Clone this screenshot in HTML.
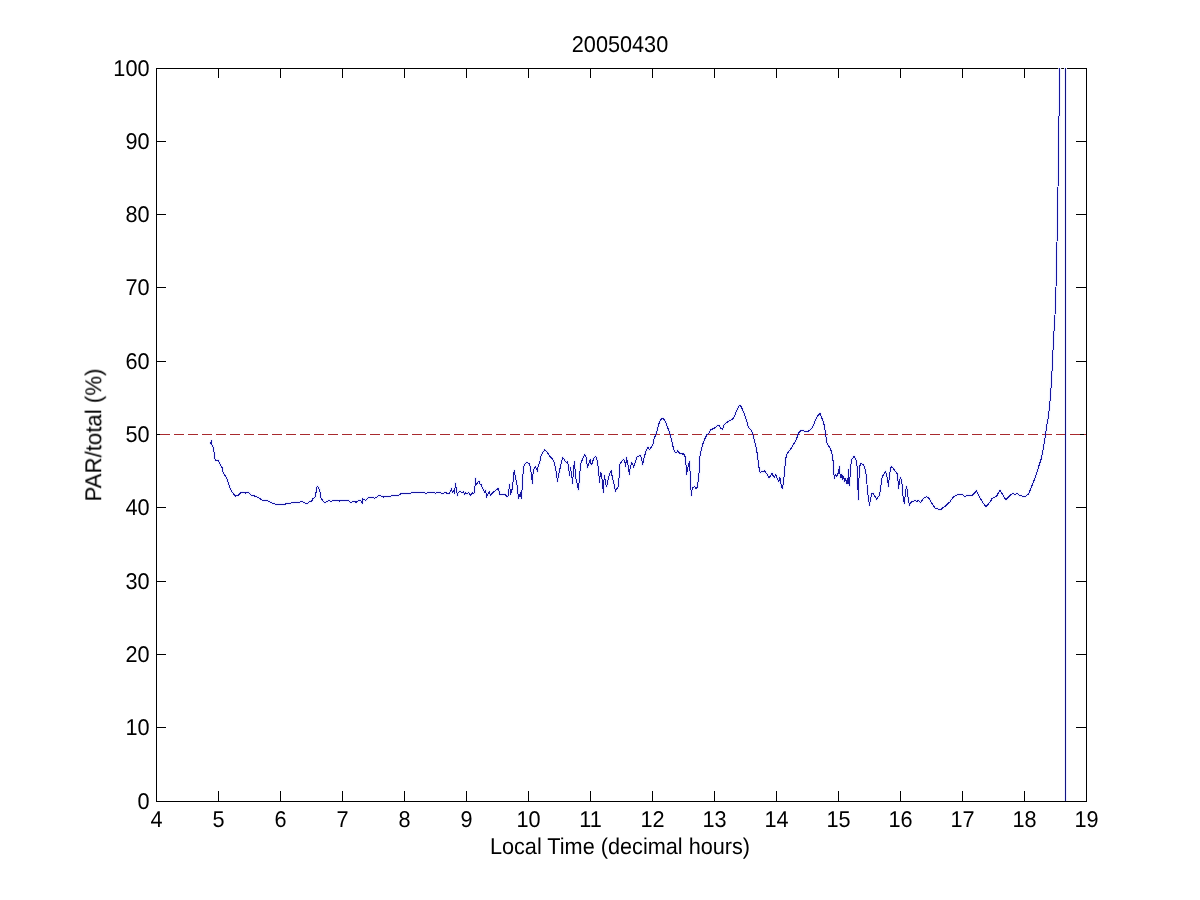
<!DOCTYPE html>
<html><head><meta charset="utf-8"><title>20050430</title><style>
html,body{margin:0;padding:0;background:#fff;width:1200px;height:900px;overflow:hidden}
svg{display:block}
text{font-family:"Liberation Sans",sans-serif;font-size:22px;fill:#000;text-rendering:geometricPrecision}
</style></head><body>
<svg width="1200" height="900" viewBox="0 0 1200 900">
<defs><clipPath id="c"><rect x="156" y="68" width="931" height="734"/></clipPath></defs>
<g shape-rendering="crispEdges"><rect x="156.5" y="68.5" width="930" height="733" fill="none" stroke="#000" stroke-width="1"/><path d="M156.5 801V791M156.5 68V78M218.5 801V791M218.5 68V78M280.5 801V791M280.5 68V78M342.5 801V791M342.5 68V78M404.5 801V791M404.5 68V78M466.5 801V791M466.5 68V78M528.5 801V791M528.5 68V78M590.5 801V791M590.5 68V78M652.5 801V791M652.5 68V78M714.5 801V791M714.5 68V78M776.5 801V791M776.5 68V78M838.5 801V791M838.5 68V78M900.5 801V791M900.5 68V78M962.5 801V791M962.5 68V78M1024.5 801V791M1024.5 68V78M1086.5 801V791M1086.5 68V78M156 801.5H166M1087 801.5H1076M156 727.5H166M1087 727.5H1076M156 654.5H166M1087 654.5H1076M156 581.5H166M1087 581.5H1076M156 507.5H166M1087 507.5H1076M156 434.5H166M1087 434.5H1076M156 361.5H166M1087 361.5H1076M156 287.5H166M1087 287.5H1076M156 214.5H166M1087 214.5H1076M156 141.5H166M1087 141.5H1076M156 68.5H166M1087 68.5H1076" stroke="#000" stroke-width="1" fill="none"/></g>
<g style="will-change:transform"><text transform="translate(156.5,827) scale(0.985,1.04)" text-anchor="middle">4</text><text transform="translate(218.5,827) scale(0.985,1.04)" text-anchor="middle">5</text><text transform="translate(280.5,827) scale(0.985,1.04)" text-anchor="middle">6</text><text transform="translate(342.5,827) scale(0.985,1.04)" text-anchor="middle">7</text><text transform="translate(404.5,827) scale(0.985,1.04)" text-anchor="middle">8</text><text transform="translate(466.5,827) scale(0.985,1.04)" text-anchor="middle">9</text><text transform="translate(528.5,827) scale(0.985,1.04)" text-anchor="middle">10</text><text transform="translate(590.5,827) scale(0.985,1.04)" text-anchor="middle">11</text><text transform="translate(652.5,827) scale(0.985,1.04)" text-anchor="middle">12</text><text transform="translate(714.5,827) scale(0.985,1.04)" text-anchor="middle">13</text><text transform="translate(776.5,827) scale(0.985,1.04)" text-anchor="middle">14</text><text transform="translate(838.5,827) scale(0.985,1.04)" text-anchor="middle">15</text><text transform="translate(900.5,827) scale(0.985,1.04)" text-anchor="middle">16</text><text transform="translate(962.5,827) scale(0.985,1.04)" text-anchor="middle">17</text><text transform="translate(1024.5,827) scale(0.985,1.04)" text-anchor="middle">18</text><text transform="translate(1086.5,827) scale(0.985,1.04)" text-anchor="middle">19</text><text transform="translate(149.5,809) scale(0.985,1.04)" text-anchor="end">0</text><text transform="translate(149.5,735) scale(0.985,1.04)" text-anchor="end">10</text><text transform="translate(149.5,662) scale(0.985,1.04)" text-anchor="end">20</text><text transform="translate(149.5,589) scale(0.985,1.04)" text-anchor="end">30</text><text transform="translate(149.5,515) scale(0.985,1.04)" text-anchor="end">40</text><text transform="translate(149.5,442) scale(0.985,1.04)" text-anchor="end">50</text><text transform="translate(149.5,369) scale(0.985,1.04)" text-anchor="end">60</text><text transform="translate(149.5,295) scale(0.985,1.04)" text-anchor="end">70</text><text transform="translate(149.5,222) scale(0.985,1.04)" text-anchor="end">80</text><text transform="translate(149.5,149) scale(0.985,1.04)" text-anchor="end">90</text><text transform="translate(149.5,76) scale(0.985,1.04)" text-anchor="end">100</text><text transform="translate(620,52) scale(0.985,1.04)" text-anchor="middle">20050430</text><text transform="translate(620,854) scale(0.985,1.04)" text-anchor="middle">Local Time (decimal hours)</text><text transform="translate(101,435) rotate(-90) scale(1.01,1.04)" text-anchor="middle">PAR/total (%)</text></g>
<polyline points="211.5,439.8 211.4,442.5 210.5,442.8 211.5,444.2 212.5,445.7 213.2,447.0 214.2,452.7 214.6,458.3 215.6,460.2 218.4,460.2 220.3,464.9 222.2,467.8 223.1,472.5 225.5,476.3 227.4,480.0 228.8,484.8 230.7,489.5 232.6,492.8 235.4,496.1 238.2,495.2 240.6,492.8 243.0,492.3 245.3,493.1 248.2,492.1 251.5,495.2 256.7,496.6 262.3,500.1 268.0,501.0 272.7,503.2 275.5,504.3 285.0,504.3 286.9,503.2 293.5,502.9 295.4,502.2 299.6,502.3 301.2,501.5 302.9,501.8 305.4,503.3 307.5,503.3 309.6,501.5 311.7,501.0 312.9,498.8 315.0,497.1 315.8,493.8 316.5,489.6 317.3,486.2 318.8,488.2 319.8,490.4 320.4,495.0 321.2,498.3 322.9,500.8 324.6,502.5 326.2,502.1 328.8,500.4 330.8,501.2 334.2,500.4 336.7,500.4 339.2,501.2 340.4,500.4 348.3,500.4 350.4,502.3 352.5,501.8 354.2,501.5 356.2,502.3 358.8,500.4 360.8,500.4 362.1,503.3 362.9,498.8 364.2,499.6 365.8,500.4 368.3,497.5 373.3,497.3 374.6,498.2 377.5,496.8 378.3,495.7 382.5,496.2 383.8,497.1 385.0,496.5 390.8,496.5 391.7,495.4 398.3,495.4 401.2,493.5 410.4,493.5 411.7,492.3 424.2,492.3 425.8,493.5 428.3,492.3 434.2,492.3 435.4,493.3 436.7,492.3 440.0,492.3 441.2,493.5 443.3,493.5 444.6,492.3 445.8,492.7 447.5,493.5 449.2,493.5 450.4,491.8 451.5,488.5 452.3,492.1 453.8,490.7 454.6,493.3 455.4,483.3 456.2,487.9 456.7,490.4 457.3,495.4 458.3,492.5 459.6,491.2 461.7,492.3 463.3,491.8 464.4,494.2 465.8,492.7 467.1,494.2 468.8,492.5 470.4,495.4 472.1,492.7 473.3,493.5 474.6,492.9 475.0,486.2 475.4,478.3 476.2,485.0 477.5,482.5 479.2,481.2 480.0,483.8 481.7,484.8 482.1,487.5 483.3,489.2 484.6,492.1 485.4,490.0 486.7,497.1 487.9,494.2 489.2,491.8 490.4,495.4 493.3,492.1 498.3,488.3 500.0,494.6 501.7,494.2 505.4,494.6 507.1,496.7 508.3,495.4 509.6,484.2 510.4,494.2 511.7,491.7 512.9,483.3 514.2,470.8 515.4,476.7 516.7,483.3 517.5,486.7 518.3,498.3 519.6,495.8 520.4,492.5 521.2,498.3 522.1,489.2 522.9,476.7 523.3,467.5 524.6,464.2 526.7,462.5 529.2,463.8 530.4,466.7 531.5,476.7 532.5,483.3 533.2,470.8 535.4,466.7 536.7,469.2 537.5,471.2 538.3,465.0 539.6,463.3 540.8,456.7 542.5,452.5 544.6,450.0 546.7,451.5 550.0,456.7 552.5,458.8 554.2,462.1 555.8,469.2 557.5,481.2 558.8,474.2 560.4,466.7 561.7,460.8 562.9,457.5 565.0,460.8 567.1,463.3 567.5,461.7 568.3,465.0 569.6,475.4 570.4,467.5 571.2,471.7 572.1,478.3 572.5,483.3 573.3,473.3 573.8,465.8 574.6,461.7 575.0,469.2 575.8,478.3 577.1,483.3 578.3,490.0 579.2,481.7 579.8,473.3 580.8,463.3 582.9,458.3 585.0,454.6 586.2,457.5 587.5,467.9 588.8,463.3 590.4,459.6 591.2,465.0 592.1,463.3 593.8,458.3 595.4,456.5 596.7,458.3 597.9,465.0 598.8,474.2 599.6,482.1 600.0,476.7 600.8,472.5 601.7,476.7 602.5,483.3 603.3,492.1 604.0,480.0 604.6,475.4 605.4,483.3 606.7,486.7 608.3,478.3 610.0,473.3 611.2,470.8 612.5,478.3 613.8,482.5 615.4,491.2 617.1,488.3 618.3,486.7 619.2,475.8 620.0,464.2 621.7,461.2 623.8,459.2 625.0,462.5 625.7,466.7 626.5,457.5 627.5,461.7 628.3,466.7 629.3,474.2 630.4,466.7 631.7,462.5 633.8,467.1 635.0,463.3 636.7,457.5 638.3,456.2 640.4,455.4 641.7,458.8 642.5,465.0 644.2,457.5 645.8,451.7 647.9,447.1 649.6,449.6 650.8,447.9 652.9,444.6 654.2,438.3 656.3,433.5 657.9,427.2 659.5,421.9 661.1,419.3 662.7,418.2 664.8,420.3 666.4,424.0 668.5,429.8 670.1,434.6 671.6,439.8 672.7,445.1 673.8,449.9 675.3,452.5 676.9,452.0 677.7,450.4 678.5,452.5 680.6,453.6 682.2,454.1 683.6,453.6 685.4,457.3 685.9,462.6 686.4,474.2 687.5,470.5 688.5,464.1 689.6,461.5 690.1,472.6 690.7,485.3 691.4,495.3 692.2,488.4 693.3,487.4 694.6,486.3 695.9,488.4 697.3,487.4 698.6,477.9 699.1,471.5 699.6,457.8 701.2,450.4 702.8,444.1 704.4,439.8 707.0,434.6 709.1,433.0 709.2,432.5 710.8,429.8 712.9,428.8 715.0,427.7 717.5,425.4 719.3,425.8 720.8,428.3 722.4,429.3 724.0,425.1 725.6,423.3 727.7,421.9 729.8,420.3 731.9,419.8 733.5,417.7 735.1,414.5 736.7,410.8 738.3,407.1 739.8,405.3 741.4,407.1 743.0,410.8 745.1,416.1 746.7,420.9 747.8,425.6 749.4,428.3 750.9,429.8 752.5,433.5 753.6,436.7 754.6,441.5 756.2,447.8 757.3,454.1 758.3,462.6 759.4,470.0 760.4,472.6 762.0,471.0 763.1,472.1 764.7,470.8 765.8,472.3 767.4,475.0 769.0,478.1 770.6,475.5 772.1,472.9 773.2,476.0 774.3,477.6 775.8,474.4 777.4,478.7 778.8,481.3 779.9,477.1 780.9,483.4 781.6,487.6 782.7,488.2 783.4,480.3 784.3,475.5 784.8,468.6 785.6,459.1 786.9,454.4 788.5,451.7 790.6,449.1 792.7,445.9 794.8,442.2 796.4,439.6 797.5,435.9 798.5,433.3 800.7,430.6 802.8,430.4 804.9,431.5 808.0,431.5 810.2,429.6 812.8,426.9 814.4,422.7 816.0,419.0 817.9,415.8 820.0,413.2 821.7,417.7 823.6,422.6 824.8,428.1 825.8,435.5 826.6,442.2 828.4,445.8 830.3,448.3 831.9,453.2 833.1,461.1 833.6,470.9 834.3,478.2 835.5,474.6 837.0,476.4 838.5,472.1 839.4,466.6 840.1,474.6 840.9,478.2 841.9,474.0 842.9,479.5 843.7,476.4 844.6,481.9 845.6,478.9 846.5,483.1 847.4,478.2 848.0,484.4 848.6,469.7 849.5,485.6 850.5,468.5 851.4,459.9 854.1,456.2 856.0,459.9 857.2,467.2 857.8,484.4 858.4,499.6 859.0,478.2 859.6,466.6 860.8,463.6 862.7,464.2 864.5,466.6 866.1,474.6 867.0,484.4 868.2,496.6 869.4,505.1 870.6,499.0 871.8,493.5 873.1,492.9 874.9,496.6 875.4,497.0 876.6,499.4 878.2,497.0 879.3,495.5 880.1,492.0 880.9,485.8 881.7,479.5 882.6,476.0 884.0,474.1 885.6,471.4 886.5,474.9 887.5,479.5 888.5,486.5 889.3,475.7 890.4,469.4 891.4,466.3 892.9,467.9 894.5,470.2 896.0,472.2 897.4,474.1 898.1,481.9 898.6,488.5 899.4,481.1 900.5,477.6 901.5,480.3 902.3,485.8 902.7,493.5 903.4,498.2 904.2,503.3 905.0,496.7 905.6,491.2 906.4,486.5 907.2,489.7 907.9,495.9 908.5,499.8 909.3,505.2 910.4,503.3 912.0,501.7 914.7,500.7 917.0,501.3 918.6,500.5 920.5,502.5 922.5,499.8 924.4,497.8 926.4,496.7 928.3,497.4 929.9,499.8 931.4,502.5 933.0,505.2 934.9,507.9 936.9,508.3 938.8,509.5 940.8,509.5 943.1,507.5 945.4,506.0 947.8,503.7 950.0,501.9 952.5,497.9 955.5,495.3 958.9,494.4 962.3,494.4 964.9,496.6 966.8,495.3 972.4,495.3 974.6,493.0 976.4,490.6 978.0,493.8 980.3,498.3 982.9,502.8 985.9,506.5 988.5,503.9 990.4,501.6 991.9,498.6 994.5,497.5 996.8,496.0 998.3,493.0 1000.1,490.4 1002.0,493.4 1004.3,497.5 1006.1,499.6 1008.8,496.9 1010.6,494.9 1012.9,493.4 1014.8,494.4 1017.0,493.4 1019.3,495.3 1021.5,495.9 1023.4,496.6 1025.3,496.4 1028.3,494.1 1029.8,491.1 1031.3,487.4 1032.8,483.3 1034.6,479.1 1037.0,472.0 1039.5,464.0 1041.5,458.0 1043.0,450.0 1044.0,444.0 1045.5,434.5 1046.5,427.0 1048.0,419.0 1049.0,411.0 1050.0,401.0 1051.0,388.3 1052.0,371.7 1053.0,350.5 1054.0,331.0 1055.0,315.0 1056.0,287.0 1057.0,242.0 1058.0,188.0 1059.0,117.0 1059.7,68.0 1060.0,40.0" fill="none" stroke="#eef0ff" stroke-width="3" stroke-linejoin="round" clip-path="url(#c)"/><path d="M1065.5 68V801" stroke="#eef0ff" stroke-width="3"/>
<path d="M156 434.5H1086" stroke="#a82a2e" stroke-width="1" stroke-dasharray="10 4" stroke-dashoffset="10" fill="none" shape-rendering="crispEdges"/>
<polyline points="211.5,439.8 211.4,442.5 210.5,442.8 211.5,444.2 212.5,445.7 213.2,447.0 214.2,452.7 214.6,458.3 215.6,460.2 218.4,460.2 220.3,464.9 222.2,467.8 223.1,472.5 225.5,476.3 227.4,480.0 228.8,484.8 230.7,489.5 232.6,492.8 235.4,496.1 238.2,495.2 240.6,492.8 243.0,492.3 245.3,493.1 248.2,492.1 251.5,495.2 256.7,496.6 262.3,500.1 268.0,501.0 272.7,503.2 275.5,504.3 285.0,504.3 286.9,503.2 293.5,502.9 295.4,502.2 299.6,502.3 301.2,501.5 302.9,501.8 305.4,503.3 307.5,503.3 309.6,501.5 311.7,501.0 312.9,498.8 315.0,497.1 315.8,493.8 316.5,489.6 317.3,486.2 318.8,488.2 319.8,490.4 320.4,495.0 321.2,498.3 322.9,500.8 324.6,502.5 326.2,502.1 328.8,500.4 330.8,501.2 334.2,500.4 336.7,500.4 339.2,501.2 340.4,500.4 348.3,500.4 350.4,502.3 352.5,501.8 354.2,501.5 356.2,502.3 358.8,500.4 360.8,500.4 362.1,503.3 362.9,498.8 364.2,499.6 365.8,500.4 368.3,497.5 373.3,497.3 374.6,498.2 377.5,496.8 378.3,495.7 382.5,496.2 383.8,497.1 385.0,496.5 390.8,496.5 391.7,495.4 398.3,495.4 401.2,493.5 410.4,493.5 411.7,492.3 424.2,492.3 425.8,493.5 428.3,492.3 434.2,492.3 435.4,493.3 436.7,492.3 440.0,492.3 441.2,493.5 443.3,493.5 444.6,492.3 445.8,492.7 447.5,493.5 449.2,493.5 450.4,491.8 451.5,488.5 452.3,492.1 453.8,490.7 454.6,493.3 455.4,483.3 456.2,487.9 456.7,490.4 457.3,495.4 458.3,492.5 459.6,491.2 461.7,492.3 463.3,491.8 464.4,494.2 465.8,492.7 467.1,494.2 468.8,492.5 470.4,495.4 472.1,492.7 473.3,493.5 474.6,492.9 475.0,486.2 475.4,478.3 476.2,485.0 477.5,482.5 479.2,481.2 480.0,483.8 481.7,484.8 482.1,487.5 483.3,489.2 484.6,492.1 485.4,490.0 486.7,497.1 487.9,494.2 489.2,491.8 490.4,495.4 493.3,492.1 498.3,488.3 500.0,494.6 501.7,494.2 505.4,494.6 507.1,496.7 508.3,495.4 509.6,484.2 510.4,494.2 511.7,491.7 512.9,483.3 514.2,470.8 515.4,476.7 516.7,483.3 517.5,486.7 518.3,498.3 519.6,495.8 520.4,492.5 521.2,498.3 522.1,489.2 522.9,476.7 523.3,467.5 524.6,464.2 526.7,462.5 529.2,463.8 530.4,466.7 531.5,476.7 532.5,483.3 533.2,470.8 535.4,466.7 536.7,469.2 537.5,471.2 538.3,465.0 539.6,463.3 540.8,456.7 542.5,452.5 544.6,450.0 546.7,451.5 550.0,456.7 552.5,458.8 554.2,462.1 555.8,469.2 557.5,481.2 558.8,474.2 560.4,466.7 561.7,460.8 562.9,457.5 565.0,460.8 567.1,463.3 567.5,461.7 568.3,465.0 569.6,475.4 570.4,467.5 571.2,471.7 572.1,478.3 572.5,483.3 573.3,473.3 573.8,465.8 574.6,461.7 575.0,469.2 575.8,478.3 577.1,483.3 578.3,490.0 579.2,481.7 579.8,473.3 580.8,463.3 582.9,458.3 585.0,454.6 586.2,457.5 587.5,467.9 588.8,463.3 590.4,459.6 591.2,465.0 592.1,463.3 593.8,458.3 595.4,456.5 596.7,458.3 597.9,465.0 598.8,474.2 599.6,482.1 600.0,476.7 600.8,472.5 601.7,476.7 602.5,483.3 603.3,492.1 604.0,480.0 604.6,475.4 605.4,483.3 606.7,486.7 608.3,478.3 610.0,473.3 611.2,470.8 612.5,478.3 613.8,482.5 615.4,491.2 617.1,488.3 618.3,486.7 619.2,475.8 620.0,464.2 621.7,461.2 623.8,459.2 625.0,462.5 625.7,466.7 626.5,457.5 627.5,461.7 628.3,466.7 629.3,474.2 630.4,466.7 631.7,462.5 633.8,467.1 635.0,463.3 636.7,457.5 638.3,456.2 640.4,455.4 641.7,458.8 642.5,465.0 644.2,457.5 645.8,451.7 647.9,447.1 649.6,449.6 650.8,447.9 652.9,444.6 654.2,438.3 656.3,433.5 657.9,427.2 659.5,421.9 661.1,419.3 662.7,418.2 664.8,420.3 666.4,424.0 668.5,429.8 670.1,434.6 671.6,439.8 672.7,445.1 673.8,449.9 675.3,452.5 676.9,452.0 677.7,450.4 678.5,452.5 680.6,453.6 682.2,454.1 683.6,453.6 685.4,457.3 685.9,462.6 686.4,474.2 687.5,470.5 688.5,464.1 689.6,461.5 690.1,472.6 690.7,485.3 691.4,495.3 692.2,488.4 693.3,487.4 694.6,486.3 695.9,488.4 697.3,487.4 698.6,477.9 699.1,471.5 699.6,457.8 701.2,450.4 702.8,444.1 704.4,439.8 707.0,434.6 709.1,433.0 709.2,432.5 710.8,429.8 712.9,428.8 715.0,427.7 717.5,425.4 719.3,425.8 720.8,428.3 722.4,429.3 724.0,425.1 725.6,423.3 727.7,421.9 729.8,420.3 731.9,419.8 733.5,417.7 735.1,414.5 736.7,410.8 738.3,407.1 739.8,405.3 741.4,407.1 743.0,410.8 745.1,416.1 746.7,420.9 747.8,425.6 749.4,428.3 750.9,429.8 752.5,433.5 753.6,436.7 754.6,441.5 756.2,447.8 757.3,454.1 758.3,462.6 759.4,470.0 760.4,472.6 762.0,471.0 763.1,472.1 764.7,470.8 765.8,472.3 767.4,475.0 769.0,478.1 770.6,475.5 772.1,472.9 773.2,476.0 774.3,477.6 775.8,474.4 777.4,478.7 778.8,481.3 779.9,477.1 780.9,483.4 781.6,487.6 782.7,488.2 783.4,480.3 784.3,475.5 784.8,468.6 785.6,459.1 786.9,454.4 788.5,451.7 790.6,449.1 792.7,445.9 794.8,442.2 796.4,439.6 797.5,435.9 798.5,433.3 800.7,430.6 802.8,430.4 804.9,431.5 808.0,431.5 810.2,429.6 812.8,426.9 814.4,422.7 816.0,419.0 817.9,415.8 820.0,413.2 821.7,417.7 823.6,422.6 824.8,428.1 825.8,435.5 826.6,442.2 828.4,445.8 830.3,448.3 831.9,453.2 833.1,461.1 833.6,470.9 834.3,478.2 835.5,474.6 837.0,476.4 838.5,472.1 839.4,466.6 840.1,474.6 840.9,478.2 841.9,474.0 842.9,479.5 843.7,476.4 844.6,481.9 845.6,478.9 846.5,483.1 847.4,478.2 848.0,484.4 848.6,469.7 849.5,485.6 850.5,468.5 851.4,459.9 854.1,456.2 856.0,459.9 857.2,467.2 857.8,484.4 858.4,499.6 859.0,478.2 859.6,466.6 860.8,463.6 862.7,464.2 864.5,466.6 866.1,474.6 867.0,484.4 868.2,496.6 869.4,505.1 870.6,499.0 871.8,493.5 873.1,492.9 874.9,496.6 875.4,497.0 876.6,499.4 878.2,497.0 879.3,495.5 880.1,492.0 880.9,485.8 881.7,479.5 882.6,476.0 884.0,474.1 885.6,471.4 886.5,474.9 887.5,479.5 888.5,486.5 889.3,475.7 890.4,469.4 891.4,466.3 892.9,467.9 894.5,470.2 896.0,472.2 897.4,474.1 898.1,481.9 898.6,488.5 899.4,481.1 900.5,477.6 901.5,480.3 902.3,485.8 902.7,493.5 903.4,498.2 904.2,503.3 905.0,496.7 905.6,491.2 906.4,486.5 907.2,489.7 907.9,495.9 908.5,499.8 909.3,505.2 910.4,503.3 912.0,501.7 914.7,500.7 917.0,501.3 918.6,500.5 920.5,502.5 922.5,499.8 924.4,497.8 926.4,496.7 928.3,497.4 929.9,499.8 931.4,502.5 933.0,505.2 934.9,507.9 936.9,508.3 938.8,509.5 940.8,509.5 943.1,507.5 945.4,506.0 947.8,503.7 950.0,501.9 952.5,497.9 955.5,495.3 958.9,494.4 962.3,494.4 964.9,496.6 966.8,495.3 972.4,495.3 974.6,493.0 976.4,490.6 978.0,493.8 980.3,498.3 982.9,502.8 985.9,506.5 988.5,503.9 990.4,501.6 991.9,498.6 994.5,497.5 996.8,496.0 998.3,493.0 1000.1,490.4 1002.0,493.4 1004.3,497.5 1006.1,499.6 1008.8,496.9 1010.6,494.9 1012.9,493.4 1014.8,494.4 1017.0,493.4 1019.3,495.3 1021.5,495.9 1023.4,496.6 1025.3,496.4 1028.3,494.1 1029.8,491.1 1031.3,487.4 1032.8,483.3 1034.6,479.1 1037.0,472.0 1039.5,464.0 1041.5,458.0 1043.0,450.0 1044.0,444.0 1045.5,434.5 1046.5,427.0 1048.0,419.0 1049.0,411.0 1050.0,401.0 1051.0,388.3 1052.0,371.7 1053.0,350.5 1054.0,331.0 1055.0,315.0 1056.0,287.0 1057.0,242.0 1058.0,188.0 1059.0,117.0 1059.7,68.0 1060.0,40.0" fill="none" stroke="#1616a0" stroke-width="1" stroke-linejoin="round" shape-rendering="crispEdges" clip-path="url(#c)"/>
<path d="M1065.5 68V801" stroke="#121482" stroke-width="1" shape-rendering="crispEdges"/>
</svg></body></html>
